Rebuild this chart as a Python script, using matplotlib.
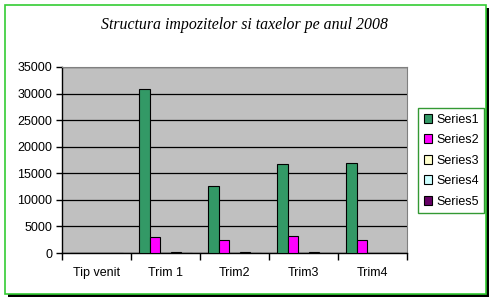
import numpy as np
import matplotlib.pyplot as plt
from matplotlib.patches import Rectangle

categories = ["Tip venit", "Trim 1", "Trim2", "Trim3", "Trim4"]
series_names = ["Series1", "Series2", "Series3", "Series4", "Series5"]
series1 = [0, 30800, 12650, 16700, 16880]
series2 = [0, 3080, 2400, 3140, 2400]
series3 = [0, 0, 0, 0, 0]
series4 = [0, 120, 120, 120, 0]
series5 = [0, 0, 0, 0, 0]
colors = ["#339966", "#FF00FF", "#FFFFCC", "#CCFFFF", "#660066"]

W, H = 494, 302
fig = plt.figure(figsize=(W / 100, H / 100), dpi=100)
fig.patch.set_facecolor("white")

# outer frame: black shadow + green border
fig.add_artist(Rectangle((8 / W, (H - 297) / H), 481 / W, 289 / H, transform=fig.transFigure,
                         facecolor="black", edgecolor="none", zorder=-2))
fig.add_artist(Rectangle((5 / W, (H - 294) / H), 481 / W, 289 / H, transform=fig.transFigure,
                         facecolor="white", edgecolor="#33CC33", lw=1.2, zorder=-1))

ax = fig.add_axes([62 / W, (H - 253) / H, 345 / W, 186 / H])
ax.set_facecolor("#C0C0C0")

data = [series1, series2, series3, series4, series5]
n = len(categories)
bw = 1 / 6.5
x = np.arange(n)
for i, (vals, c, name) in enumerate(zip(data, colors, series_names)):
    pos = x + 0.75 * bw + (i + 0.5) * bw
    ax.bar(pos, vals, width=bw, color=c, edgecolor="black", linewidth=0.8, label=name, zorder=3)

ax.set_xlim(0, n)
ax.set_ylim(0, 35000)
ax.set_yticks(np.arange(0, 35001, 5000))
ax.yaxis.grid(True, color="black", linewidth=0.9, zorder=1)
ax.set_axisbelow(True)

ax.set_xticks(np.arange(n + 1))
ax.set_xticklabels([])
ax.set_xticks(x + 0.5, minor=True)
ax.set_xticklabels(categories, minor=True, fontsize=9, family="Liberation Sans")
ax.tick_params(axis="x", which="minor", length=0, pad=10)
ax.tick_params(axis="x", which="major", length=5, width=1, direction="out")
ax.tick_params(axis="y", length=4, width=1, direction="out", labelsize=9, pad=3)
for lab in ax.get_yticklabels():
    lab.set_family("Liberation Sans")

for s in ["top", "right"]:
    ax.spines[s].set_color("#808080")
for s in ["left", "bottom"]:
    ax.spines[s].set_color("black")
    ax.spines[s].set_linewidth(1)

fig.text(244 / W, (H - 25) / H, "Structura impozitelor si taxelor pe anul 2008",
         ha="center", va="center", fontsize=11.4, style="italic", family="Liberation Serif")

leg = ax.legend(loc="upper left", bbox_to_anchor=(418 / W, (H - 108) / H),
                bbox_transform=fig.transFigure, frameon=True, fancybox=False,
                prop={"family": "Liberation Sans", "size": 9},
                handlelength=0.7, handleheight=0.7, handletextpad=0.3,
                labelspacing=0.68, borderpad=0.45, borderaxespad=0)
leg.get_frame().set_edgecolor("#008000")
leg.get_frame().set_linewidth(1)

fig.savefig("out.png", dpi=100)
